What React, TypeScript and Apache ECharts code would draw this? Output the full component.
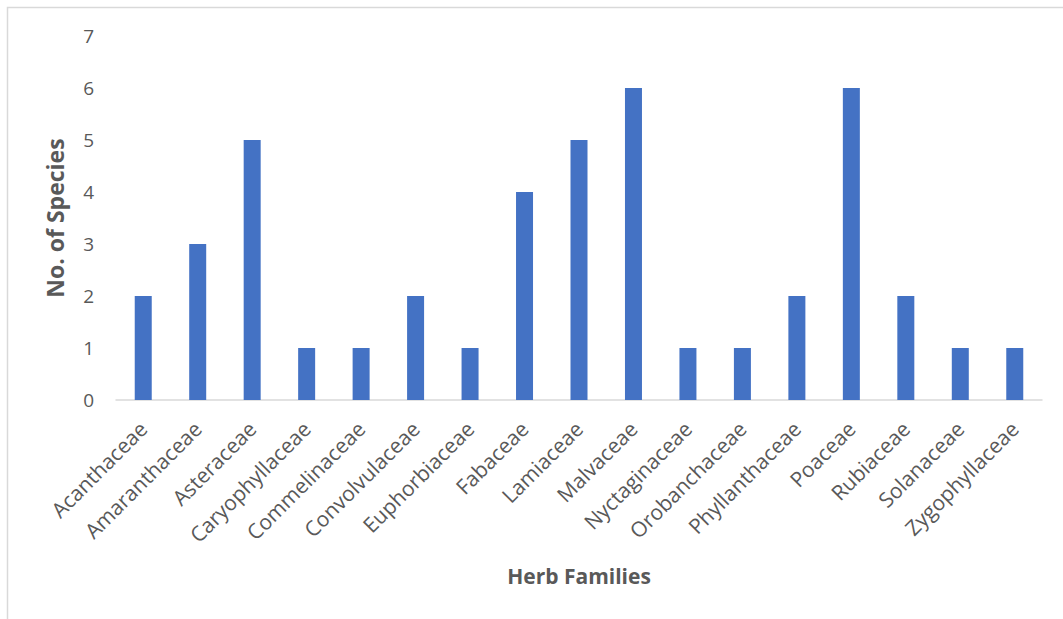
import React, { useEffect, useRef } from "react";
import * as echarts from "echarts";

// Herb families and species counts
const families = [
  "Acanthaceae",
  "Amaranthaceae",
  "Asteraceae",
  "Caryophyllaceae",
  "Commelinaceae",
  "Convolvulaceae",
  "Euphorbiaceae",
  "Fabaceae",
  "Lamiaceae",
  "Malvaceae",
  "Nyctaginaceae",
  "Orobanchaceae",
  "Phyllanthaceae",
  "Poaceae",
  "Rubiaceae",
  "Solanaceae",
  "Zygophyllaceae",
];
const speciesCounts = [2, 3, 5, 1, 1, 2, 1, 4, 5, 6, 1, 1, 2, 6, 2, 1, 1];

const yMin = 0;
const yMax = 7;
const yStep = 1;

const FONT = "'Open Sans', 'Noto Sans', sans-serif";
const TEXT = "#595959";
const LINE = "#D9D9D9";
const BAR = "#4472C4";

export default function App() {
  const ref = useRef<HTMLDivElement>(null);

  useEffect(() => {
    if (!ref.current) return;
    const chart = echarts.init(ref.current, undefined, { renderer: "svg" });
    chart.setOption({
      animation: false,
      backgroundColor: "#ffffff",
      graphic: [
        {
          type: "polyline",
          shape: {
            points: [
              [7.5, 700],
              [7.5, 7.5],
              [1100, 7.5],
            ],
          },
          style: { stroke: LINE, lineWidth: 1.5, fill: "none" },
          silent: true,
        },
      ],
      grid: { left: 116, right: 21, top: 36, bottom: 219, containLabel: false },
      xAxis: {
        type: "category",
        data: families,
        name: "Herb Families",
        nameLocation: "middle",
        nameGap: 165,
        nameTextStyle: { color: TEXT, fontFamily: FONT, fontSize: 21, fontWeight: "bold" },
        axisLine: { show: true, lineStyle: { color: LINE, width: 1.5 } },
        axisTick: { show: false },
        axisLabel: {
          interval: 0,
          rotate: 45,
          margin: 25,
          color: TEXT,
          fontFamily: FONT,
          fontSize: 21,
        },
      },
      yAxis: {
        type: "value",
        min: yMin,
        max: yMax,
        interval: yStep,
        name: "No. of Species",
        nameLocation: "middle",
        nameGap: 50,
        nameTextStyle: { color: TEXT, fontFamily: FONT, fontSize: 23, fontWeight: "bold" },
        axisLine: { show: false },
        axisTick: { show: false },
        splitLine: { show: false },
        axisLabel: { color: TEXT, fontFamily: FONT, fontSize: 19, margin: 22 },
      },
      series: [
        {
          type: "bar",
          data: speciesCounts,
          barWidth: 17,
          itemStyle: { color: BAR },
        },
      ],
    });
    return () => chart.dispose();
  }, []);

  return (
    <div
      ref={ref}
      style={{ position: "fixed", left: 0, top: 0, width: 1063, height: 619 }}
    />
  );
}
